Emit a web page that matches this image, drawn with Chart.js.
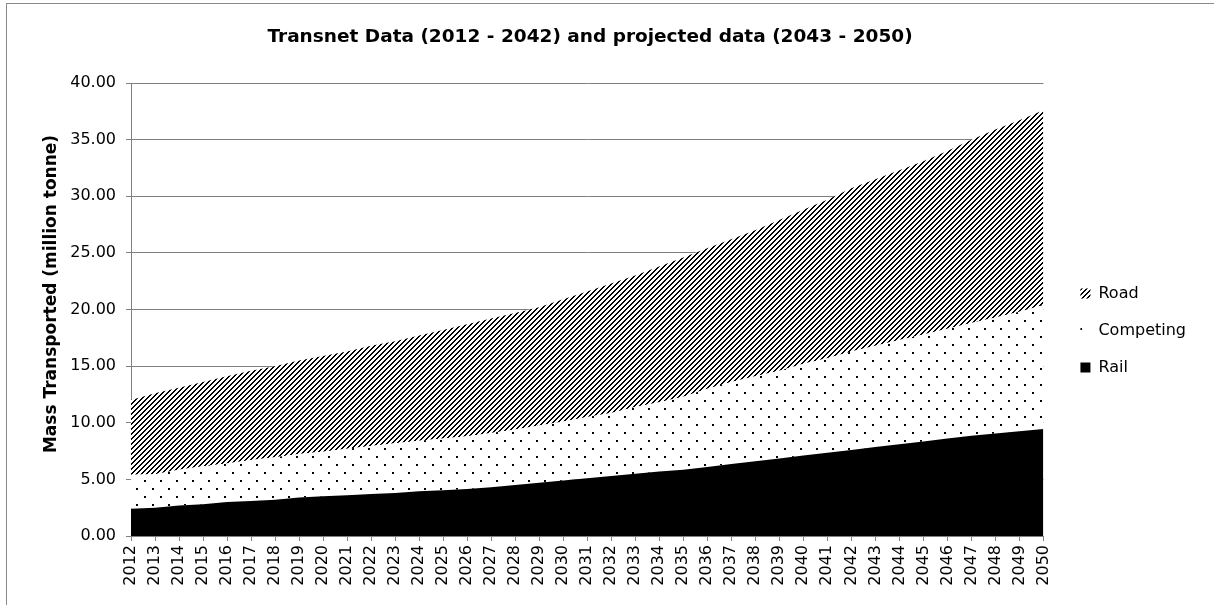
<!DOCTYPE html>
<html>
<head>
<meta charset="utf-8">
<script src="https://cdn.jsdelivr.net/npm/chart.js@4.4.1/dist/chart.umd.min.js"></script>
<style>
  html, body { margin: 0; padding: 0; background: #fff; }
  #wrap { position: relative; width: 1214px; height: 605px; overflow: hidden; }
  #frame { position: absolute; left: 6px; top: 3px; width: 1300px; height: 660px; border: 1px solid #8a8a8a; }
  canvas { position: absolute; left: 0; top: 0; }
</style>
</head>
<body>
<div id="wrap">
  <div id="frame"></div>
  <canvas id="transnetChart" width="1214" height="605"></canvas>
</div>
<script>
// Categories
const years = ['2012', '2013', '2014', '2015', '2016', '2017', '2018', '2019', '2020', '2021',
    '2022', '2023', '2024', '2025', '2026', '2027', '2028', '2029', '2030', '2031',
    '2032', '2033', '2034', '2035', '2036', '2037', '2038', '2039', '2040', '2041',
    '2042', '2043', '2044', '2045', '2046', '2047', '2048', '2049', '2050'];

// Series values (million tonne), stacked: Rail + Competing + Road
const railValues = [2.4, 2.5, 2.7, 2.8, 3.0, 3.1, 3.2, 3.4, 3.5, 3.6,
    3.7, 3.8, 3.95, 4.05, 4.15, 4.3, 4.5, 4.7, 4.9, 5.1,
    5.3, 5.5, 5.7, 5.85, 6.1, 6.35, 6.6, 6.85, 7.1, 7.35,
    7.6, 7.85, 8.1, 8.35, 8.6, 8.85, 9.05, 9.25, 9.45];
const competingValues = [3.0, 2.95, 3.15, 3.35, 3.4, 3.6, 3.75, 3.85, 3.95, 4.1,
    4.25, 4.4, 4.45, 4.55, 4.65, 4.8, 4.9, 5.05, 5.2, 5.4,
    5.55, 5.9, 6.1, 6.45, 6.9, 7.25, 7.5, 7.75, 8.1, 8.35,
    8.7, 8.95, 9.2, 9.45, 9.7, 9.95, 10.25, 10.55, 10.95];
const roadValues = [6.6, 7.15, 7.25, 7.45, 7.7, 7.9, 8.05, 8.25, 8.45, 8.6,
    8.85, 9.0, 9.3, 9.6, 9.9, 10.1, 10.3, 10.45, 10.8, 11.1,
    11.45, 11.6, 12.0, 12.3, 12.4, 12.6, 12.9, 13.3, 13.6, 14.0,
    14.4, 14.7, 15.0, 15.3, 15.7, 16.2, 16.6, 16.9, 17.2];

// Y axis tick labels
const yTickValues = [0, 5, 10, 15, 20, 25, 30, 35, 40];

const chartTitle = 'Transnet Data (2012 - 2042) and projected data (2043 - 2050)';
const yAxisLabel = 'Mass Transported (million tonne)';

Chart.defaults.font.family = "'DejaVu Sans', sans-serif";
Chart.defaults.font.size = 16;
Chart.defaults.color = '#000';

// Fill patterns
function makePattern(size, paint) {
    const c = document.createElement('canvas');
    c.width = size;
    c.height = size;
    const g = c.getContext('2d');
    g.fillStyle = '#fff';
    g.fillRect(0, 0, size, size);
    g.fillStyle = '#000';
    paint(g);
    return g.createPattern(c, 'repeat');
}

const roadFill = makePattern(5, g => {
    for (let y = 0; y < 5; y++) {
        const x = (4 - y + 5) % 5;
        g.fillRect(x, y, 1, 1);
        g.fillRect((x + 1) % 5, y, 1, 1);
    }
});

const competingFill = makePattern(16, g => {
    g.fillRect(0, 0, 2, 2);
    g.fillRect(8, 8, 2, 2);
});

// Y axis title drawn along the left side
const yAxisTitle = {
    id: 'yAxisTitle',
    afterDraw(chart) {
        const c = chart.ctx;
        c.save();
        c.translate(52, 294);
        c.rotate(-Math.PI / 2);
        c.font = "bold 17px 'DejaVu Sans', sans-serif";
        c.textAlign = 'center';
        c.textBaseline = 'middle';
        c.fillStyle = '#000';
        c.fillText(yAxisLabel, 0, 0);
        c.restore();
    }
};

// Move the legend a little right and down, as in the original
const nudgeLegend = {
    id: 'nudgeLegend',
    afterLayout(chart) {
        const lg = chart.legend;
        lg.left += 16;
        lg.right += 16;
        lg.top += 28;
        lg.bottom += 28;
    }
};

const transnetChart = new Chart(document.getElementById('transnetChart'), {
    type: 'line',
    data: {
        labels: years,
        datasets: [{
            label: 'Rail',
            data: railValues,
            backgroundColor: '#000',
            borderColor: 'rgba(0,0,0,0)',
            borderWidth: 0,
            fill: 'origin'
        }, {
            label: 'Competing',
            data: competingValues,
            backgroundColor: competingFill,
            borderColor: 'rgba(0,0,0,0)',
            borderWidth: 0,
            fill: '-1'
        }, {
            label: 'Road',
            data: roadValues,
            backgroundColor: roadFill,
            borderColor: 'rgba(0,0,0,0)',
            borderWidth: 0,
            fill: '-1'
        }]
    },
    options: {
        responsive: false,
        animation: false,
        layout: {
            padding: { left: 0, right: 34, top: 0, bottom: 0 }
        },
        elements: {
            point: { radius: 0, hoverRadius: 0 },
            line: { tension: 0 }
        },
        plugins: {
            title: {
                display: true,
                text: chartTitle,
                color: '#000',
                font: { size: 18.5, weight: 'bold' },
                padding: { top: 26, bottom: 34.8 }
            },
            legend: {
                position: 'right',
                reverse: true,
                labels: {
                    boxWidth: 10,
                    boxHeight: 10,
                    padding: 21,
                    color: '#000',
                    font: { size: 16 }
                }
            },
            tooltip: { enabled: false }
        },
        scales: {
            x: {
                grid: {
                    drawOnChartArea: false,
                    drawTicks: true,
                    tickLength: 5,
                    color: '#808080'
                },
                border: { color: '#808080' },
                ticks: {
                    autoSkip: false,
                    minRotation: 90,
                    maxRotation: 90,
                    padding: 4,
                    color: '#000'
                },
                afterFit(scale) {
                    scale.height = 69;
                }
            },
            y: {
                stacked: true,
                min: 0,
                max: 40,
                afterBuildTicks(scale) {
                    scale.ticks = yTickValues.map(v => ({ value: v }));
                },
                ticks: {
                    padding: 10,
                    color: '#000',
                    callback: v => Number(v).toFixed(2)
                },
                grid: {
                    color: '#808080',
                    tickLength: 5
                },
                border: { color: '#808080' },
                afterFit(scale) {
                    scale.width = 131;
                }
            }
        }
    },
    plugins: [yAxisTitle, nudgeLegend]
});
</script>
</body>
</html>
